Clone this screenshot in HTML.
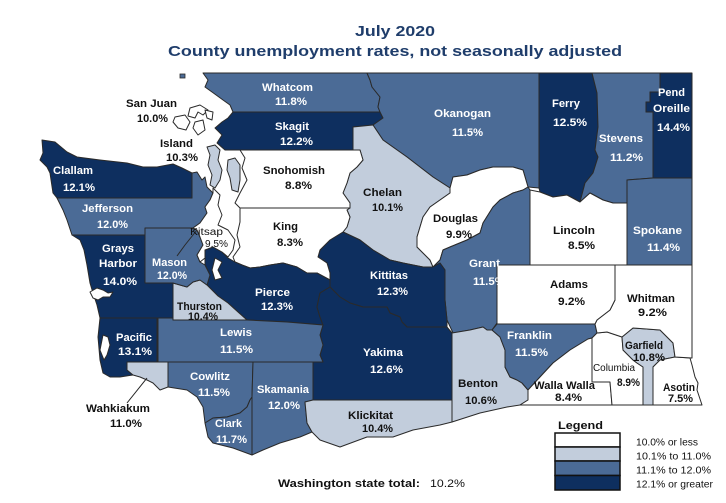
<!DOCTYPE html>
<html><head><meta charset="utf-8"><style>
html,body{margin:0;padding:0;background:#fff;}
svg{display:block;}
text{font-family:"Liberation Sans",Arial,sans-serif;}
.b{font-weight:bold;font-size:11px;}
.w{fill:#fff;}
.k{fill:#111;}
</style></head><body>
<svg width="726" height="503" viewBox="0 0 726 503" xmlns="http://www.w3.org/2000/svg">
<rect width="726" height="503" fill="#fff"/>
<g stroke="#2a2a2a" stroke-width="1" stroke-linejoin="round">
<!-- Whatcom -->
<polygon fill="#4b6b96" points="203,73 367,73 370,80 372,87 380,97 378,107 380,112 233,112 230,105 223,100 212,92 205,87 208,80"/>
<!-- Skagit -->
<polygon fill="#0e2f5f" points="233,112 380,112 383,118 373,125 353,127 353,150 225,150 217,143 222,135 215,128 222,122 228,118"/>
<!-- Okanogan -->
<polygon fill="#4b6b96" points="367,73 539,73 539,188 528,187 523,170 513,167 493,167 480,170 467,175 453,177 450,188 433,177 407,157 383,140 373,125 383,118 380,112 378,107 380,97 372,87 370,80"/>
<!-- Chelan -->
<polygon fill="#c2cddc" points="353,127 373,125 383,140 407,157 433,177 450,188 450,193 440,200 430,207 423,217 417,237 417,247 430,260 433,267 423,267 403,263 390,260 373,250 360,240 343,232 347,227 350,217 347,210 350,203 343,193 347,183 350,173 357,167 363,160 360,150 353,150"/>
<!-- Douglas -->
<polygon fill="#ffffff" points="450,188 453,177 467,175 480,170 493,167 513,167 523,170 528,187 523,190 513,193 500,200 493,207 483,223 480,233 467,240 450,247 443,250 440,260 433,267 430,260 417,247 417,237 423,217 430,207 440,200 450,193"/>
<!-- Ferry -->
<polygon fill="#0e2f5f" points="539,73 592,73 597,93 598,127 595,150 598,157 593,173 585,183 580,202 567,195 553,197 540,192 539,188"/>
<!-- Stevens -->
<polygon fill="#4b6b96" points="592,73 660,73 660,92 650,92 650,102 646,102 646,112 653,112 653,178 627,180 627,203 613,203 603,200 590,193 580,202 585,183 593,173 598,157 595,150 598,127 597,93"/>
<!-- Pend Oreille -->
<polygon fill="#0e2f5f" points="660,73 692,73 692,178 653,178 653,112 646,112 646,102 650,102 650,92 660,92"/>
<!-- Spokane -->
<polygon fill="#4b6b96" points="627,180 653,178 692,178 692,265 627,265"/>
<!-- Lincoln -->
<polygon fill="#ffffff" points="530,190 540,192 553,197 567,195 580,202 590,193 603,200 613,203 627,203 627,265 530,265"/>
<!-- Grant -->
<polygon fill="#4b6b96" points="433,267 440,260 443,250 450,247 467,240 480,233 483,223 493,207 500,200 513,193 523,190 528,187 530,190 530,265 497,265 497,323 492,330 487,330 483,327 470,330 453,333 447,320 445,300 445,270 440,263"/>
<!-- Kittitas -->
<polygon fill="#0e2f5f" points="343,232 360,240 373,250 390,260 403,263 423,267 433,267 440,263 445,270 445,300 447,320 447,327 407,327 402,322 400,317 390,313 387,307 363,307 350,303 340,297 330,287 330,280 327,280 330,273 327,263 318,257 320,250 330,240"/>
<!-- Snohomish -->
<polygon fill="#ffffff" points="240,150 353,150 360,150 363,160 357,167 350,173 347,183 343,193 350,203 350,208 240,208 235,203 240,193 247,180 242,168 245,158"/>
<!-- King -->
<polygon fill="#ffffff" points="240,208 350,208 347,210 350,217 347,227 343,232 330,240 320,250 318,257 327,263 330,273 330,280 317,273 307,273 297,267 283,263 270,265 260,267 250,268 242,265 235,262 233,257 240,247 237,235 240,222"/>
<!-- Pierce -->
<polygon fill="#0e2f5f" points="205,250 213,247 222,252 228,258 235,262 242,265 250,268 260,267 270,265 283,263 297,267 307,273 317,273 330,280 330,287 320,293 317,307 320,317 323,325 287,322 247,320 238,312 228,303 218,296 212,290 207,285 210,275 205,265"/>
<!-- Yakima -->
<polygon fill="#0e2f5f" points="330,287 340,297 350,303 363,307 387,307 390,313 400,317 402,322 407,327 447,327 452,333 452,400 313,400 313,362 323,362 320,355 323,345 320,335 323,325 320,317 317,307 320,293"/>
<!-- Lewis -->
<polygon fill="#4b6b96" points="158,318 173,318 173,320 247,320 287,322 323,325 320,335 323,345 320,355 323,362 158,362"/>
<!-- Thurston -->
<polygon fill="#c2cddc" points="173,283 187,287 193,282 200,280 207,285 212,290 218,296 228,303 238,312 247,320 173,320"/>
<!-- Mason -->
<polygon fill="#4b6b96" points="145,228 190,228 197,230 200,237 203,245 197,255 200,262 205,265 210,275 207,285 200,280 193,282 187,287 173,283 145,283"/>
<!-- Grays Harbor -->
<polygon fill="#0e2f5f" points="72,235 145,235 145,283 173,283 173,318 100,318 97,305 93,293 90,283 87,265 84,250 80,240"/>
<!-- Jefferson -->
<polygon fill="#4b6b96" points="57,198 192,198 192,173 197,172 202,180 205,177 207,187 213,193 210,200 205,207 207,213 200,223 193,228 145,228 145,235 72,235 67,220 63,210"/>
<!-- Clallam -->
<polygon fill="#0e2f5f" points="42,140 55,142 67,152 77,157 100,160 127,163 143,167 157,167 173,164 182,168 192,173 192,198 57,198 53,193 50,173 47,167 40,160 43,153"/>
<!-- Kitsap -->
<polygon fill="#ffffff" points="213,188 220,195 218,205 222,215 218,225 228,230 235,240 233,250 228,257 222,252 213,247 205,250 205,258 200,262 197,255 203,245 200,237 197,230 193,228 200,223 207,213 205,207 210,200 213,193"/>
<!-- Hood canal -->
<polyline fill="none" stroke="#2a2a2a" stroke-width="1" points="177,256 185,245 193,235 197,230"/>
<!-- Pacific -->
<polygon fill="#0e2f5f" points="100,318 157,318 157,362 127,362 127,370 133,375 120,377 110,377 103,373 100,360 98,337"/>
<!-- Wahkiakum -->
<polygon fill="#c2cddc" points="127,362 168,362 168,387 160,390 153,383 147,380 140,377 133,375 127,370"/>
<!-- Cowlitz -->
<polygon fill="#4b6b96" points="168,362 253,362 252,397 250,400 247,407 240,413 227,417 213,418 205,423 203,407 197,397 187,390 168,387"/>
<!-- Clark -->
<polygon fill="#4b6b96" points="205,423 213,418 227,417 240,413 247,407 250,400 252,397 252,455 233,448 213,443 208,437"/>
<!-- Skamania -->
<polygon fill="#4b6b96" points="253,362 313,362 313,400 305,402 307,423 312,432 300,437 280,443 263,450 252,455 252,397"/>
<!-- Klickitat -->
<polygon fill="#c2cddc" points="305,402 313,400 452,400 452,422 440,425 413,430 393,437 367,437 340,447 320,440 312,432 307,423"/>
<!-- Benton -->
<polygon fill="#c2cddc" points="452,333 470,330 483,327 487,330 492,330 500,337 505,350 505,367 510,377 517,380 522,383 528,390 528,400 520,405 507,407 480,413 452,422"/>
<!-- Franklin -->
<polygon fill="#4b6b96" points="497,324 595,324 597,333 592,338 588,339 570,350 553,363 540,377 528,390 522,383 517,380 510,377 505,367 505,350 500,337 492,330"/>
<!-- Walla Walla -->
<polygon fill="#ffffff" points="528,390 540,377 553,363 570,350 588,339 592,338 592,382 610,382 612,405 520,405 528,400"/>
<!-- Columbia -->
<polygon fill="#ffffff" points="592,338 597,333 607,332 622,337 623,350 633,360 637,363 643,367 643,405 612,405 610,382 592,382"/>
<!-- Garfield -->
<polygon fill="#c2cddc" points="622,337 633,328 660,330 673,343 675,357 660,360 653,367 653,405 643,405 643,367 637,363 633,360 623,350"/>
<!-- Asotin -->
<polygon fill="#ffffff" points="653,367 660,360 675,357 690,358 692,365 695,377 698,383 697,390 702,405 653,405"/>
<!-- Whitman -->
<polygon fill="#ffffff" points="615,265 692,265 692,358 675,357 673,343 660,330 633,328 622,337 607,332 597,333 595,324 597,320 610,310 615,300"/>
<!-- Adams -->
<polygon fill="#ffffff" points="497,265 615,265 615,300 610,310 597,320 595,324 497,324"/>
<!-- Island county -->
<polygon fill="#c2cddc" points="207,147 215,145 220,150 218,160 222,170 220,180 215,188 210,185 212,175 208,165 210,155"/>
<polygon fill="#c2cddc" points="228,160 235,158 240,165 240,180 238,192 232,190 230,178 227,170"/>
<!-- San Juan islands -->
<polygon fill="#ffffff" points="190,108 200,105 208,110 203,115 198,112 195,118 188,116"/>
<polygon fill="#ffffff" points="175,117 185,115 190,122 186,130 178,128 173,122"/>
<polygon fill="#ffffff" points="195,122 203,120 205,130 198,135 193,128"/>
<polygon fill="#ffffff" points="205,110 213,112 212,120 207,118"/>
<!-- water inlets -->
<polygon fill="#ffffff" points="90,292 97,288 103,290 108,293 113,292 110,297 103,297 98,300 93,298"/>
<polygon fill="#ffffff" points="103,335 108,337 110,345 107,355 104,360 100,350"/>
<polygon fill="#ffffff" points="215,258 222,262 218,270 222,278 215,280 212,270"/>
</g>
<rect x="180" y="74" width="5" height="4" fill="#4b6b96" stroke="#2a2a2a" stroke-width="0.8"/>
<line x1="127" y1="403" x2="147" y2="378" stroke="#222" stroke-width="1"/>

<!-- Title -->
<text x="355" y="36" font-size="15" font-weight="bold" fill="#1f3d6b" textLength="80" lengthAdjust="spacingAndGlyphs">July 2020</text>
<text x="168" y="56" font-size="15" font-weight="bold" fill="#1f3d6b" textLength="454" lengthAdjust="spacingAndGlyphs">County unemployment rates, not seasonally adjusted</text>

<!-- Labels -->
<g class="b">
<text class="k" x="126" y="107" textLength="51" lengthAdjust="spacingAndGlyphs">San Juan</text>
<text class="k" x="137" y="122" textLength="31" lengthAdjust="spacingAndGlyphs">10.0%</text>
<text class="w" x="262" y="91" textLength="51" lengthAdjust="spacingAndGlyphs">Whatcom</text>
<text class="w" x="275" y="105" textLength="32" lengthAdjust="spacingAndGlyphs">11.8%</text>
<text class="w" x="275" y="130" textLength="34" lengthAdjust="spacingAndGlyphs">Skagit</text>
<text class="w" x="280" y="145" textLength="33" lengthAdjust="spacingAndGlyphs">12.2%</text>
<text class="k" x="160" y="147" textLength="33" lengthAdjust="spacingAndGlyphs">Island</text>
<text class="k" x="166" y="161" textLength="32" lengthAdjust="spacingAndGlyphs">10.3%</text>
<text class="w" x="53" y="174" textLength="40" lengthAdjust="spacingAndGlyphs">Clallam</text>
<text class="w" x="63" y="191" textLength="32" lengthAdjust="spacingAndGlyphs">12.1%</text>
<text class="w" x="82" y="212" textLength="51" lengthAdjust="spacingAndGlyphs">Jefferson</text>
<text class="w" x="97" y="228" textLength="31" lengthAdjust="spacingAndGlyphs">12.0%</text>
<text class="k" x="263" y="174" textLength="62" lengthAdjust="spacingAndGlyphs">Snohomish</text>
<text class="k" x="285" y="189" textLength="27" lengthAdjust="spacingAndGlyphs">8.8%</text>
<text class="k" x="273" y="230" textLength="25" lengthAdjust="spacingAndGlyphs">King</text>
<text class="k" x="277" y="246" textLength="26" lengthAdjust="spacingAndGlyphs">8.3%</text>
<text class="w" x="102" y="252" textLength="32" lengthAdjust="spacingAndGlyphs">Grays</text>
<text class="w" x="99" y="267" textLength="38" lengthAdjust="spacingAndGlyphs">Harbor</text>
<text class="w" x="103" y="285" textLength="34" lengthAdjust="spacingAndGlyphs">14.0%</text>
<text class="w" x="152" y="266" textLength="35" lengthAdjust="spacingAndGlyphs">Mason</text>
<text class="w" x="157" y="279" textLength="30" lengthAdjust="spacingAndGlyphs">12.0%</text>
<text class="k" x="190" y="235" font-size="10" font-weight="normal" textLength="33" lengthAdjust="spacingAndGlyphs">Kitsap</text>
<text class="k" x="205" y="247" font-size="10" font-weight="normal" textLength="23" lengthAdjust="spacingAndGlyphs">9.5%</text>
<text class="w" x="255" y="296" textLength="35" lengthAdjust="spacingAndGlyphs">Pierce</text>
<text class="w" x="261" y="310" textLength="32" lengthAdjust="spacingAndGlyphs">12.3%</text>
<text class="k" x="177" y="310" textLength="45" lengthAdjust="spacingAndGlyphs">Thurston</text>
<text class="k" x="188" y="320" textLength="30" lengthAdjust="spacingAndGlyphs">10.4%</text>
<text class="w" x="220" y="336" textLength="32" lengthAdjust="spacingAndGlyphs">Lewis</text>
<text class="w" x="220" y="353" textLength="33" lengthAdjust="spacingAndGlyphs">11.5%</text>
<text class="w" x="116" y="341" textLength="36" lengthAdjust="spacingAndGlyphs">Pacific</text>
<text class="w" x="118" y="355" textLength="34" lengthAdjust="spacingAndGlyphs">13.1%</text>
<text class="k" x="86" y="412" textLength="64" lengthAdjust="spacingAndGlyphs">Wahkiakum</text>
<text class="k" x="110" y="427" textLength="32" lengthAdjust="spacingAndGlyphs">11.0%</text>
<text class="w" x="190" y="380" textLength="40" lengthAdjust="spacingAndGlyphs">Cowlitz</text>
<text class="w" x="198" y="396" textLength="32" lengthAdjust="spacingAndGlyphs">11.5%</text>
<text class="w" x="215" y="427" textLength="27" lengthAdjust="spacingAndGlyphs">Clark</text>
<text class="w" x="216" y="443" textLength="31" lengthAdjust="spacingAndGlyphs">11.7%</text>
<text class="w" x="257" y="393" textLength="52" lengthAdjust="spacingAndGlyphs">Skamania</text>
<text class="w" x="268" y="409" textLength="32" lengthAdjust="spacingAndGlyphs">12.0%</text>
<text class="k" x="348" y="419" textLength="45" lengthAdjust="spacingAndGlyphs">Klickitat</text>
<text class="k" x="362" y="432" textLength="31" lengthAdjust="spacingAndGlyphs">10.4%</text>
<text class="w" x="363" y="356" textLength="40" lengthAdjust="spacingAndGlyphs">Yakima</text>
<text class="w" x="370" y="373" textLength="33" lengthAdjust="spacingAndGlyphs">12.6%</text>
<text class="w" x="370" y="279" textLength="38" lengthAdjust="spacingAndGlyphs">Kittitas</text>
<text class="w" x="377" y="295" textLength="31" lengthAdjust="spacingAndGlyphs">12.3%</text>
<text class="k" x="363" y="196" textLength="39" lengthAdjust="spacingAndGlyphs">Chelan</text>
<text class="k" x="372" y="211" textLength="31" lengthAdjust="spacingAndGlyphs">10.1%</text>
<text class="k" x="433" y="222" textLength="45" lengthAdjust="spacingAndGlyphs">Douglas</text>
<text class="k" x="446" y="238" textLength="26" lengthAdjust="spacingAndGlyphs">9.9%</text>
<text class="w" x="434" y="117" textLength="57" lengthAdjust="spacingAndGlyphs">Okanogan</text>
<text class="w" x="452" y="136" textLength="31" lengthAdjust="spacingAndGlyphs">11.5%</text>
<text class="w" x="552" y="107" textLength="28" lengthAdjust="spacingAndGlyphs">Ferry</text>
<text class="w" x="553" y="126" textLength="34" lengthAdjust="spacingAndGlyphs">12.5%</text>
<text class="w" x="599" y="142" textLength="44" lengthAdjust="spacingAndGlyphs">Stevens</text>
<text class="w" x="610" y="161" textLength="33" lengthAdjust="spacingAndGlyphs">11.2%</text>
<text class="w" x="658" y="96" textLength="27" lengthAdjust="spacingAndGlyphs">Pend</text>
<text class="w" x="653" y="112" textLength="37" lengthAdjust="spacingAndGlyphs">Oreille</text>
<text class="w" x="657" y="131" textLength="33" lengthAdjust="spacingAndGlyphs">14.4%</text>
<text class="k" x="553" y="234" textLength="42" lengthAdjust="spacingAndGlyphs">Lincoln</text>
<text class="k" x="568" y="249" textLength="27" lengthAdjust="spacingAndGlyphs">8.5%</text>
<text class="w" x="633" y="234" textLength="49" lengthAdjust="spacingAndGlyphs">Spokane</text>
<text class="w" x="647" y="251" textLength="33" lengthAdjust="spacingAndGlyphs">11.4%</text>
<text class="w" x="469" y="267" textLength="31" lengthAdjust="spacingAndGlyphs">Grant</text>
<text class="w" x="473" y="285" textLength="32" lengthAdjust="spacingAndGlyphs">11.5%</text>
<text class="k" x="550" y="288" textLength="38" lengthAdjust="spacingAndGlyphs">Adams</text>
<text class="k" x="558" y="305" textLength="27" lengthAdjust="spacingAndGlyphs">9.2%</text>
<text class="k" x="627" y="302" textLength="48" lengthAdjust="spacingAndGlyphs">Whitman</text>
<text class="k" x="638" y="316" textLength="29" lengthAdjust="spacingAndGlyphs">9.2%</text>
<text class="w" x="507" y="339" textLength="45" lengthAdjust="spacingAndGlyphs">Franklin</text>
<text class="w" x="515" y="356" textLength="33" lengthAdjust="spacingAndGlyphs">11.5%</text>
<text class="k" x="458" y="387" textLength="40" lengthAdjust="spacingAndGlyphs">Benton</text>
<text class="k" x="465" y="404" textLength="32" lengthAdjust="spacingAndGlyphs">10.6%</text>
<text class="k" x="534" y="389" textLength="61" lengthAdjust="spacingAndGlyphs">Walla Walla</text>
<text class="k" x="555" y="401" textLength="27" lengthAdjust="spacingAndGlyphs">8.4%</text>
<text class="k" x="593" y="371" font-size="10" font-weight="normal" textLength="42" lengthAdjust="spacingAndGlyphs">Columbia</text>
<text class="k" x="617" y="386" textLength="23" lengthAdjust="spacingAndGlyphs">8.9%</text>
<text class="k" x="625" y="349" textLength="38" lengthAdjust="spacingAndGlyphs">Garfield</text>
<text class="k" x="633" y="361" textLength="32" lengthAdjust="spacingAndGlyphs">10.8%</text>
<text class="k" x="663" y="391" textLength="32" lengthAdjust="spacingAndGlyphs">Asotin</text>
<text class="k" x="668" y="402" textLength="25" lengthAdjust="spacingAndGlyphs">7.5%</text>
</g>

<!-- Legend -->
<text x="558" y="429" font-size="11" font-weight="bold" fill="#111" textLength="45" lengthAdjust="spacingAndGlyphs">Legend</text>
<g stroke="#111" stroke-width="1.5">
<rect x="555" y="433" width="65" height="14" fill="#ffffff"/>
<rect x="555" y="447" width="65" height="14" fill="#c2cddc"/>
<rect x="555" y="461" width="65" height="14.5" fill="#4b6b96"/>
<rect x="555" y="475.5" width="65" height="14.5" fill="#0e2f5f"/>
</g>
<g font-size="10" fill="#111">
<text x="636" y="445.5" textLength="62" lengthAdjust="spacingAndGlyphs">10.0% or less</text>
<text x="636" y="459.5" textLength="75" lengthAdjust="spacingAndGlyphs">10.1% to 11.0%</text>
<text x="636" y="473.5" textLength="75" lengthAdjust="spacingAndGlyphs">11.1% to 12.0%</text>
<text x="636" y="487.5" textLength="77" lengthAdjust="spacingAndGlyphs">12.1% or greater</text>
</g>

<!-- State total -->
<text x="278" y="487" font-size="11" font-weight="bold" fill="#111" textLength="142" lengthAdjust="spacingAndGlyphs">Washington state total:</text>
<text x="430" y="487" font-size="11" fill="#111" textLength="35" lengthAdjust="spacingAndGlyphs">10.2%</text>
</svg>
</body></html>
